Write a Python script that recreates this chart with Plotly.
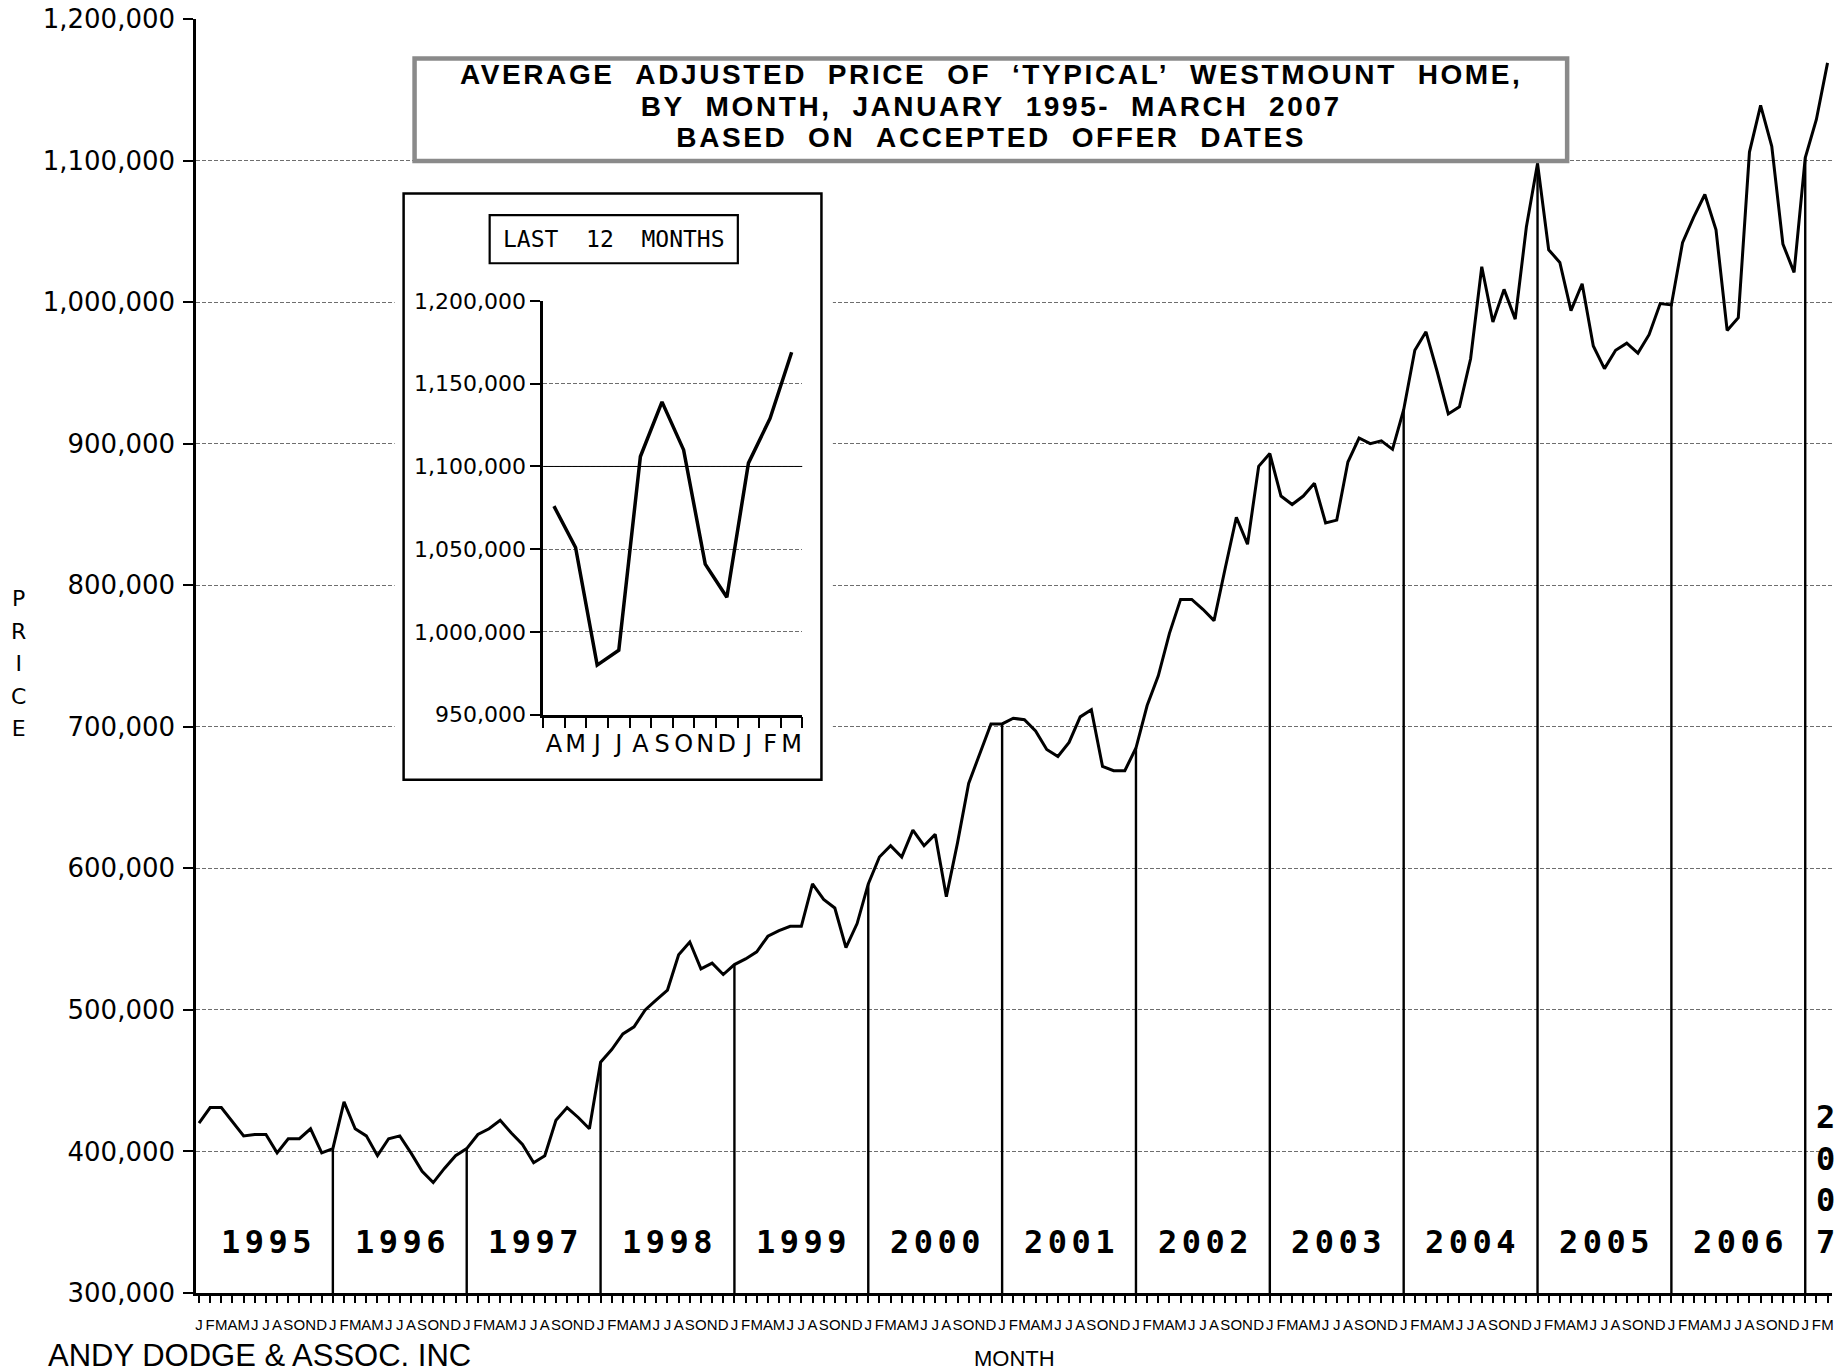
import plotly.graph_objects as go

# ---------------- data ----------------
MONTH_LETTERS = ["J", "F", "M", "A", "M", "J", "J", "A", "S", "O", "N", "D"]
YEARS = [1995, 1996, 1997, 1998, 1999, 2000, 2001, 2002, 2003, 2004, 2005, 2006, 2007]

PRICE_1995 = [420000, 431000, 431000, 421000, 411000, 412000, 412000, 399000, 409000, 409000, 416000, 399000]
PRICE_1996 = [402000, 435000, 416000, 411000, 397000, 409000, 411000, 399000, 386000, 378000, 388000, 397000]
PRICE_1997 = [402000, 412000, 416000, 422000, 413000, 405000, 392000, 397000, 422000, 431000, 424000, 416000]
PRICE_1998 = [463000, 472000, 483000, 488000, 500000, 507000, 514000, 539000, 548000, 529000, 533000, 525000]
PRICE_1999 = [532000, 536000, 541000, 552000, 556000, 559000, 559000, 589000, 578000, 572000, 544000, 561000]
PRICE_2000 = [589000, 608000, 616000, 608000, 627000, 616000, 624000, 580000, 618000, 660000, 681000, 702000]
PRICE_2001 = [702000, 706000, 705000, 697000, 684000, 679000, 689000, 707000, 712000, 672000, 669000, 669000]
PRICE_2002 = [685000, 715000, 736000, 766000, 790000, 790000, 783000, 775000, 812000, 848000, 829000, 884000]
PRICE_2003 = [893000, 863000, 857000, 863000, 872000, 844000, 846000, 887000, 904000, 900000, 902000, 896000]
PRICE_2004 = [924000, 966000, 979000, 951000, 921000, 926000, 960000, 1025000, 986000, 1009000, 988000, 1053000]
PRICE_2005 = [1098000, 1037000, 1028000, 994000, 1013000, 969000, 953000, 966000, 971000, 964000, 977000, 999000]
PRICE_2006 = [998000, 1042000, 1060000, 1076000, 1051000, 980000, 989000, 1106000, 1139000, 1110000, 1041000, 1021000]
PRICE_2007 = [1102000, 1129000, 1169000]

TITLE_LINES = [
    "AVERAGE ADJUSTED PRICE OF \u2018TYPICAL\u2019 WESTMOUNT HOME,",
    "BY MONTH, JANUARY 1995- MARCH 2007",
    "BASED ON ACCEPTED OFFER DATES",
]
INSET_TITLE = "LAST 12 MONTHS"
FOOTER = "ANDY DODGE & ASSOC. INC"
Y_TITLE = "PRICE"
X_TITLE = "MONTH"

# ---------------- derived ----------------
prices = (PRICE_1995 + PRICE_1996 + PRICE_1997 + PRICE_1998 + PRICE_1999 + PRICE_2000 +
          PRICE_2001 + PRICE_2002 + PRICE_2003 + PRICE_2004 + PRICE_2005 + PRICE_2006 + PRICE_2007)
n = len(prices)
x_idx = list(range(n))
month_text = [MONTH_LETTERS[i % 12] for i in x_idx]

Y_MIN, Y_MAX = 300000, 1200000
X_MIN, X_MAX = -0.27, 146.4

drop_x, drop_y = [], []
for i in x_idx:
    if i % 12 == 0 and i > 0:
        drop_x += [i, i, None]
        drop_y += [prices[i], Y_MIN, None]

inset_vals = prices[-12:]
inset_letters = month_text[-12:]
inset_x = list(range(len(inset_vals)))

SANS = "DejaVu Sans, Verdana, sans-serif"
LIB = "Liberation Sans, Arial, sans-serif"
MONO = "DejaVu Sans Mono, monospace"
GRID = "#6e6e6e"


def fx(f):  # fraction of main plot width -> main x data
    return X_MIN + f * (X_MAX - X_MIN)


def fy(f):  # fraction of main plot height -> main y data
    return Y_MIN + f * (Y_MAX - Y_MIN)


fig = go.Figure()

fig.add_trace(go.Scatter(x=drop_x, y=drop_y, mode="lines",
                         line=dict(color="black", width=2.4), hoverinfo="skip"))
fig.add_trace(go.Scatter(x=x_idx, y=prices, mode="lines",
                         line=dict(color="black", width=3)))
fig.add_trace(go.Scatter(x=inset_x, y=inset_vals, mode="lines", xaxis="x2", yaxis="y2",
                         line=dict(color="black", width=3.5)))

fig.update_layout(
    width=1845, height=1372, autosize=False,
    margin=dict(l=196, r=13, t=19, b=79, autoexpand=False),
    paper_bgcolor="white", plot_bgcolor="white",
    showlegend=False,
    xaxis=dict(
        domain=[0, 1], anchor="y", automargin=False,
        range=[X_MIN, X_MAX],
        tickmode="array", tickvals=x_idx, ticktext=month_text, tickangle=0,
        ticks="outside", ticklen=7, tickwidth=1.5, tickcolor="black",
        ticklabelstandoff=9,
        showline=True, linecolor="black", linewidth=2.5,
        showgrid=False, zeroline=False,
        tickfont=dict(family=LIB, size=15, color="black"),
    ),
    yaxis=dict(
        domain=[0, 1], anchor="x", automargin=False,
        range=[Y_MIN, Y_MAX], tickmode="linear", tick0=Y_MIN, dtick=100000,
        tickformat=",",
        ticks="outside", ticklen=10, tickwidth=2, tickcolor="black",
        ticklabelstandoff=3,
        showline=True, linecolor="black", linewidth=2.5,
        showgrid=True, gridcolor=GRID, gridwidth=1, griddash="4px,2px",
        zeroline=False,
        tickfont=dict(family=SANS, size=26, color="black"),
    ),
    xaxis2=dict(
        domain=[0.2122, 0.3707], anchor="y2", automargin=False,
        range=[-0.5, 11.5],
        tickmode="array", tickvals=inset_x, ticktext=inset_letters, tickangle=0,
        ticks="", ticklabelstandoff=6,
        minor=dict(ticks="outside", ticklen=11, tickwidth=2, tickcolor="black",
                   tickmode="linear", tick0=-0.5, dtick=1, showgrid=False),
        showline=True, linecolor="black", linewidth=2.5,
        showgrid=False, zeroline=False,
        tickfont=dict(family=SANS, size=24, color="black"),
    ),
    yaxis2=dict(
        domain=[0.4539, 0.7787], anchor="x2", automargin=False,
        range=[950000, 1200000], tickmode="linear", tick0=950000, dtick=50000,
        tickformat=",",
        ticks="outside", ticklen=10, tickwidth=2, tickcolor="black",
        ticklabelstandoff=0,
        showline=True, linecolor="black", linewidth=2.5,
        showgrid=True, gridcolor=GRID, gridwidth=1, griddash="4px,2px",
        zeroline=False,
        tickfont=dict(family=SANS, size=22, color="black"),
    ),
)

shapes = []
# white margin around the inset (hides main gridlines)
shapes.append(dict(type="rect", xref="x", yref="y", layer="between",
                   x0=fx(0.1214), x1=fx(0.3893), y0=fy(0.3949), y1=fy(0.8709),
                   fillcolor="white", line=dict(width=0)))
# inset frame
shapes.append(dict(type="rect", xref="x", yref="y", layer="between",
                   x0=fx(0.1269), x1=fx(0.3823), y0=fy(0.4028), y1=fy(0.8630),
                   fillcolor="white", line=dict(color="black", width=2.5)))
# "last 12 months" box
shapes.append(dict(type="rect", xref="x", yref="y", layer="between",
                   x0=fx(0.1795), x1=fx(0.3312), y0=fy(0.8083), y1=fy(0.8461),
                   fillcolor="white", line=dict(color="black", width=2.2)))
# title box
shapes.append(dict(type="rect", xref="x", yref="y", layer="between",
                   x0=fx(0.1336), x1=fx(0.8381), y0=fy(0.8885), y1=fy(0.9689),
                   fillcolor="white", line=dict(color="#8a8a8a", width=4.5)))
# solid reference line in the inset at 1,100,000
shapes.append(dict(type="line", xref="x2", yref="y2", layer="between",
                   x0=-0.5, x1=11.5, y0=1100000, y1=1100000,
                   line=dict(color="black", width=1)))
fig.update_layout(shapes=shapes)

ann = []
NB = "\u00a0\u00a0"
title_html = "<br>".join(
    '<span style="font-size:28px;letter-spacing:2.6px">' + line.replace(" ", NB) + "</span>"
    for line in TITLE_LINES)
ann.append(dict(xref="paper", yref="paper", x=0.4861, y=0.9315, xanchor="center", yanchor="middle",
                text=title_html, showarrow=False, align="center",
                font=dict(family=LIB, size=24.4, color="black", weight="bold")))
ann.append(dict(xref="paper", yref="paper", x=0.2553, y=0.8272, xanchor="center", yanchor="middle",
                text=INSET_TITLE.replace(" ", NB), showarrow=False,
                font=dict(family=MONO, size=23, color="black")))
ann.append(dict(xref="paper", yref="paper", x=-0.0914, y=-0.049, xanchor="left", yanchor="middle",
                text=FOOTER, showarrow=False,
                font=dict(family=LIB, size=31, color="black")))
ann.append(dict(xref="paper", yref="paper", x=0.5, y=-0.0512, xanchor="center", yanchor="middle",
                text=X_TITLE, showarrow=False,
                font=dict(family=LIB, size=22, color="black")))
ann.append(dict(xref="paper", yref="paper", x=-0.1087, y=0.4945, xanchor="center", yanchor="middle",
                text="<br>".join('<span style="font-size:22px">' + c + "</span>" for c in Y_TITLE),
                showarrow=False, align="center",
                font=dict(family=SANS, size=25, color="black")))
for k, yr in enumerate(YEARS[:-1]):
    ann.append(dict(xref="x", yref="y", x=12 * k + 6.2, y=336000, xanchor="center", yanchor="middle",
                    text='<span style="letter-spacing:4.5px">' + str(yr) + "</span>", showarrow=False,
                    font=dict(family=MONO, size=32, color="black", weight="bold")))
ann.append(dict(xref="x", yref="y", x=12 * (len(YEARS) - 1) + 1.8, y=380000, xanchor="center", yanchor="middle",
                text="<br>".join(str(YEARS[-1])), showarrow=False, align="center",
                font=dict(family=MONO, size=32, color="black", weight="bold")))
fig.update_layout(annotations=ann)

fig.write_html("out.html", config={"displayModeBar": False},
               post_script="document.body.style.margin='0';document.body.style.overflow='hidden';")
